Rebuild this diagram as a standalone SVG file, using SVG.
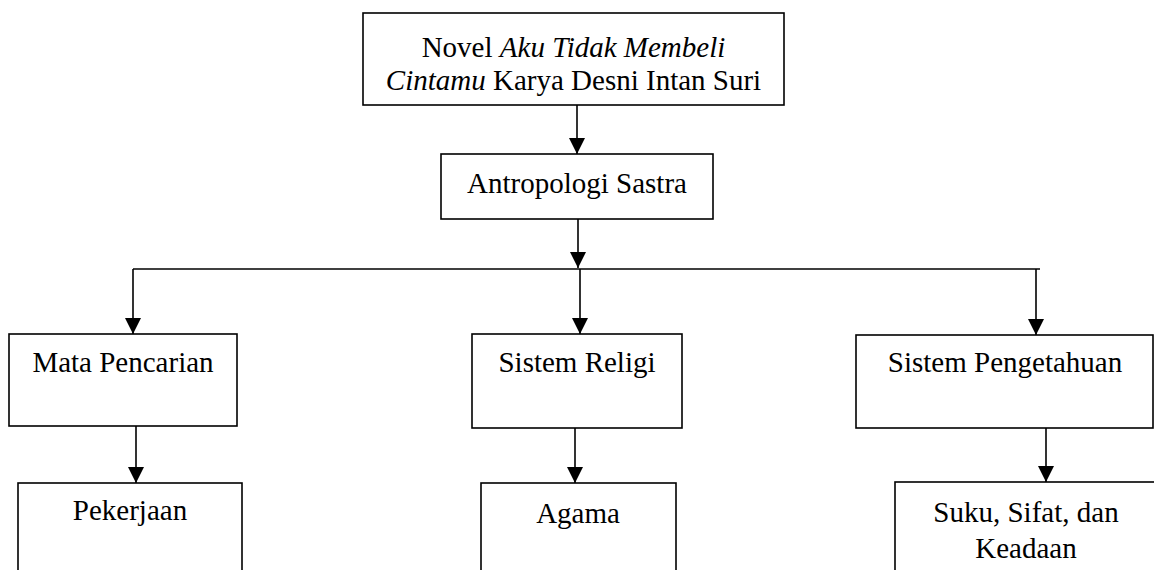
<svg xmlns="http://www.w3.org/2000/svg" width="1154" height="570" viewBox="0 0 1154 570">
<style>
.box{fill:#fff;stroke:#000;stroke-width:1.6}
.lbl{font-family:"Liberation Serif","Times New Roman",serif;font-size:29px;fill:#000;text-anchor:middle}
.it{font-style:italic}
.ln{fill:none;stroke:#000;stroke-width:1.6}
</style>
<defs>
<marker id="ah" markerUnits="userSpaceOnUse" markerWidth="16" markerHeight="17" viewBox="0 0 16 17" refX="8" refY="16" orient="auto-start-reverse">
<path d="M0,0 L16,0 L8,16 Z" fill="#000" transform="rotate(-90 8 8)"/>
</marker>
<marker id="arr" markerUnits="userSpaceOnUse" markerWidth="16" markerHeight="16" viewBox="0 0 16 16" refX="16" refY="8" orient="auto">
<path d="M0,0 L16,8 L0,16 Z" fill="#000"/>
</marker>
</defs>
<rect width="1154" height="570" fill="#fff"/>
<g id="connectors">
<line class="ln" x1="577" y1="105" x2="577" y2="154" marker-end="url(#arr)"/>
<line class="ln" x1="578" y1="219" x2="578" y2="268" marker-end="url(#arr)"/>
<line class="ln" x1="133" y1="269" x2="1040" y2="269"/>
<line class="ln" x1="133" y1="269" x2="133" y2="334" marker-end="url(#arr)"/>
<line class="ln" x1="580" y1="269" x2="580" y2="334" marker-end="url(#arr)"/>
<line class="ln" x1="1036" y1="269" x2="1036" y2="335" marker-end="url(#arr)"/>
<line class="ln" x1="136" y1="426" x2="136" y2="483" marker-end="url(#arr)"/>
<line class="ln" x1="575" y1="428" x2="575" y2="483" marker-end="url(#arr)"/>
<line class="ln" x1="1046" y1="428" x2="1046" y2="482" marker-end="url(#arr)"/>
</g>
<g id="novel">
<rect class="box" x="363" y="13" width="421" height="92"/>
<text class="lbl" x="573.5" y="57">Novel <tspan class="it">Aku Tidak Membeli</tspan></text>
<text class="lbl" x="573.5" y="90"><tspan class="it">Cintamu</tspan> Karya Desni Intan Suri</text>
</g>
<g id="antropologi">
<rect class="box" x="441" y="154" width="272" height="65"/>
<text class="lbl" x="577" y="193">Antropologi Sastra</text>
</g>
<g id="mata-pencarian">
<rect class="box" x="9" y="334" width="228" height="92"/>
<text class="lbl" x="123" y="372">Mata Pencarian</text>
</g>
<g id="sistem-religi">
<rect class="box" x="472" y="334" width="210" height="94"/>
<text class="lbl" x="577" y="372">Sistem Religi</text>
</g>
<g id="sistem-pengetahuan">
<rect class="box" x="856" y="335" width="297" height="93"/>
<text class="lbl" x="1005" y="372">Sistem Pengetahuan</text>
</g>
<g id="pekerjaan">
<rect class="box" x="18" y="483" width="224" height="100"/>
<text class="lbl" x="130" y="520">Pekerjaan</text>
</g>
<g id="agama">
<rect class="box" x="481" y="483" width="195" height="100"/>
<text class="lbl" x="578" y="523">Agama</text>
</g>
<g id="suku">
<rect class="box" x="895" y="482" width="262" height="100"/>
<text class="lbl" x="1026" y="522">Suku, Sifat, dan</text>
<text class="lbl" x="1026" y="558">Keadaan</text>
</g>
</svg>
